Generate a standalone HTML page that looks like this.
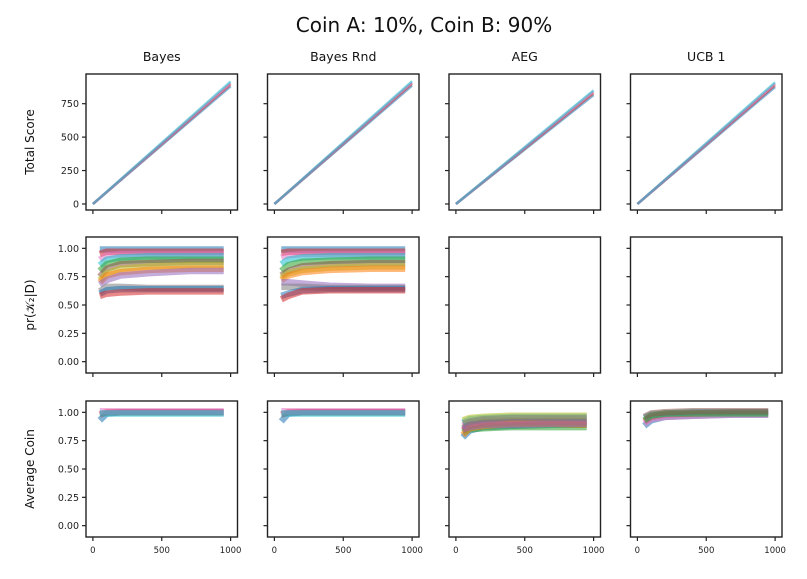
<!DOCTYPE html>
<html><head><meta charset="utf-8"><style>
html,body{margin:0;padding:0;background:#fff;}
svg{display:block;font-family:"DejaVu Sans","Liberation Sans",sans-serif;}
</style></head><body>
<svg id="fig" width="807" height="579" viewBox="0 0 807 579" xmlns="http://www.w3.org/2000/svg">
<text x="424" y="32" font-size="20" text-anchor="middle" fill="#111">Coin A: 10%, Coin B: 90%</text>
</svg>
<script>
const colTitles = ["Bayes","Bayes Rnd","AEG","UCB 1"];
const rowLabels = ["Total Score","pr(\u{1D4A6}\u2082|D)","Average Coin"];
const xTicks = [0,500,1000];
const yTicksScore = [0,250,500,750];
const yTicksProb = [0,0.25,0.5,0.75,1.0];
const yTickLabelsProb = ["0.00","0.25","0.50","0.75","1.00"];
const xsScore = [0,1000];
const xsRun = [50,100,200,400,700,950];
const colors = ["#1f77b4","#ff7f0e","#2ca02c","#d62728","#9467bd","#8c564b","#e377c2","#7f7f7f","#bcbd22","#17becf"];

const scoreBayes = [[0,880],[0,895],[0,905],[0,915]];
const scoreBayesRnd = [[0,885],[0,900],[0,910],[0,918]];
const scoreAEG = [[0,815],[0,830],[0,842],[0,850]];
const scoreUCB = [[0,875],[0,890],[0,900],[0,910]];

const probBayes = [
 [0.99,0.99,0.99,0.99,0.99,0.99],[0.95,0.97,0.97,0.97,0.97,0.97],
 [0.90,0.94,0.95,0.95,0.95,0.95],[0.85,0.90,0.92,0.93,0.93,0.93],
 [0.80,0.86,0.89,0.90,0.90,0.90],[0.75,0.82,0.86,0.87,0.88,0.88],
 [0.72,0.78,0.82,0.84,0.85,0.85],[0.70,0.76,0.79,0.81,0.82,0.82],
 [0.68,0.72,0.76,0.78,0.80,0.80],[0.62,0.66,0.66,0.65,0.65,0.65],
 [0.60,0.63,0.64,0.64,0.64,0.64],[0.58,0.60,0.61,0.62,0.62,0.62]];
const probBayesRnd = [
 [0.99,0.99,0.99,0.99,0.99,0.99],[0.96,0.97,0.97,0.97,0.97,0.97],
 [0.92,0.94,0.95,0.95,0.95,0.95],[0.86,0.90,0.92,0.93,0.93,0.93],
 [0.80,0.85,0.88,0.89,0.90,0.90],[0.76,0.80,0.84,0.86,0.87,0.87],
 [0.74,0.78,0.81,0.83,0.84,0.84],[0.72,0.76,0.79,0.81,0.82,0.82],
 [0.70,0.70,0.69,0.67,0.66,0.66],[0.66,0.66,0.66,0.65,0.65,0.65],
 [0.58,0.60,0.63,0.64,0.64,0.64],[0.55,0.58,0.62,0.63,0.63,0.63]];
const coinBayes = [[0.93,0.99,1.0,1.0,1.0,1.0],[0.98,1.0,1.0,1.0,1.0,1.0],[1.01,1.01,1.01,1.01,1.01,1.01],[0.99,0.99,0.99,0.99,0.99,0.99]];
const coinBayesRnd = [[0.92,0.99,1.0,1.0,1.0,1.0],[0.98,1.0,1.0,1.0,1.0,1.0],[1.01,1.01,1.01,1.01,1.01,1.01],[0.99,0.99,0.99,0.99,0.99,0.99]];
const coinAEG = [
 [0.78,0.84,0.87,0.88,0.89,0.89],[0.84,0.88,0.90,0.91,0.91,0.91],
 [0.88,0.91,0.93,0.93,0.94,0.94],[0.91,0.94,0.95,0.96,0.96,0.96],
 [0.82,0.85,0.86,0.87,0.87,0.87],[0.86,0.89,0.91,0.92,0.92,0.92],
 [0.93,0.95,0.96,0.97,0.97,0.97],[0.80,0.86,0.88,0.90,0.90,0.89],
 [0.85,0.87,0.89,0.89,0.90,0.90],[0.90,0.92,0.94,0.95,0.95,0.95]];
const coinUCB = [
 [0.88,0.93,0.96,0.97,0.98,0.98],[0.92,0.96,0.98,0.99,1.0,1.0],
 [0.90,0.94,0.96,0.97,0.98,0.98],[0.95,0.98,0.99,1.0,1.0,1.0],
 [0.93,0.97,0.99,0.99,0.99,0.99],[0.96,0.99,1.0,1.01,1.01,1.01]];

const panels = [
 [[xsScore,scoreBayes],[xsScore,scoreBayesRnd],[xsScore,scoreAEG],[xsScore,scoreUCB]],
 [[xsRun,probBayes],[xsRun,probBayesRnd],[xsRun,[]],[xsRun,[]]],
 [[xsRun,coinBayes],[xsRun,coinBayesRnd],[xsRun,coinAEG],[xsRun,coinUCB]]
];
const NS = "http://www.w3.org/2000/svg";
const svg = document.getElementById("fig");
const colX = [86,267.5,449,630.5], W = 151.5;
const rowY = [74,237,401], H = 136;
const xDom = [-50,1050];
const yDoms = [[-45,972],[-0.1,1.1],[-0.1,1.1]];
const strokeW = [2.5,6.5,6.5];
function mk(tag, attrs){const e=document.createElementNS(NS,tag);for(const k in attrs)e.setAttribute(k,attrs[k]);return e;}
for(let r=0;r<3;r++){
 for(let c=0;c<4;c++){
  const x0=colX[c], y0=rowY[r];
  const sx=v=>x0+(v-xDom[0])/(xDom[1]-xDom[0])*W;
  const sy=v=>y0+H-(v-yDoms[r][0])/(yDoms[r][1]-yDoms[r][0])*H;
  const g=mk("g",{});
  
  
  svg.appendChild(g);
  const [xs,series]=panels[r][c];
  series.forEach((s,i)=>{
   const pts=s.map((v,j)=>sx(xs[j]).toFixed(1)+","+sy(v).toFixed(1)).join(" ");
   const pl=mk("polyline",{points:pts,fill:"none",stroke:colors[(i*3)%10],"stroke-width":strokeW[r],"stroke-opacity":0.55,"stroke-linejoin":"round"});
   
   
   g.appendChild(pl);
  });
  const frame=mk("rect",{x:x0,y:y0,width:W,height:H,fill:"none",stroke:"#222","stroke-width":1.4});
  
  
  g.appendChild(frame);
  xTicks.forEach(t=>{
   const tk=mk("line",{x1:sx(t),x2:sx(t),y1:y0+H,y2:y0+H+4,stroke:"#222","stroke-width":1.2});
   
   
   g.appendChild(tk);
   if(r===2){
    const tl=mk("text",{x:sx(t),y:y0+H+16,"font-size":8.5,"text-anchor":"middle",fill:"#222"});
    tl.textContent=t;
    
    
    g.appendChild(tl);
   }
  });
  const yt = r===0?yTicksScore:yTicksProb;
  yt.forEach((t,i)=>{
   const tk=mk("line",{x1:x0-4,x2:x0,y1:sy(t),y2:sy(t),stroke:"#222","stroke-width":1.2});
   
   
   g.appendChild(tk);
   if(c===0){
    const tl=mk("text",{x:x0-7,y:sy(t)+3.5,"font-size":9.5,"text-anchor":"end",fill:"#222"});
    tl.textContent = r===0?t:yTickLabelsProb[i];
    
    
    g.appendChild(tl);
   }
  });
  if(r===0){
   const ct=mk("text",{x:x0+W/2,y:61,"font-size":12.5,"text-anchor":"middle",fill:"#111"});
   ct.textContent=colTitles[c];
   
   
   g.appendChild(ct);
  }
  if(c===0){
   const cy=y0+H/2, lx=34;
   const yl=mk("text",{x:lx,y:cy,"font-size":12,"text-anchor":"middle",fill:"#111",transform:"rotate(-90 "+lx+" "+cy+")"});
   yl.textContent=rowLabels[r];
   
   
   g.appendChild(yl);
  }
 }
}
</script>
</body></html>
